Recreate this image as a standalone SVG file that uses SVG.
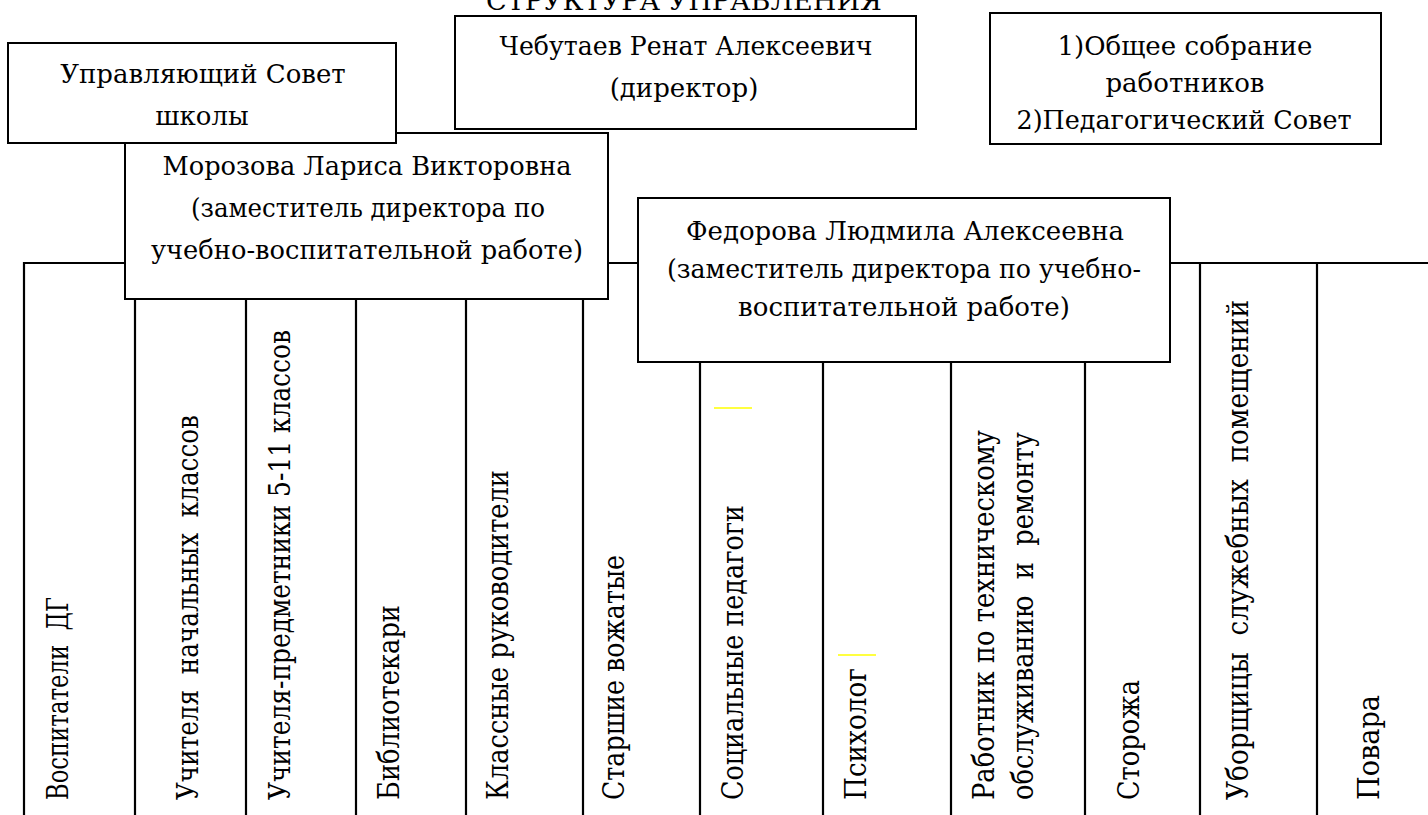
<svg xmlns="http://www.w3.org/2000/svg" width="1428" height="815" viewBox="0 0 1428 815">
<style>
.box{fill:#fff;stroke:#000;stroke-width:2}
.ln{stroke:#000;stroke-width:2.2;fill:none}
.t{font-family:'DejaVu Serif','Liberation Serif',serif;font-size:26px;fill:#000;white-space:pre}
.v{font-size:29px}
.c{text-anchor:middle}
.y{stroke:#ffff00;stroke-width:1.5}
</style>
<rect width="1428" height="815" fill="#fff"/>
<text class="t c" x="684" y="10" font-size="27" textLength="396" lengthAdjust="spacingAndGlyphs">СТРУКТУРА УПРАВЛЕНИЯ</text>
<g id="connectors">
<line class="ln" x1="24" y1="263" x2="1428" y2="263"/>
<line class="ln" x1="24" y1="262" x2="24" y2="815"/>
<line class="ln" x1="135" y1="299" x2="135" y2="815"/>
<line class="ln" x1="246" y1="299" x2="246" y2="815"/>
<line class="ln" x1="356" y1="299" x2="356" y2="815"/>
<line class="ln" x1="466" y1="299" x2="466" y2="815"/>
<line class="ln" x1="583" y1="299" x2="583" y2="815"/>
<line class="ln" x1="700" y1="362" x2="700" y2="815"/>
<line class="ln" x1="823" y1="362" x2="823" y2="815"/>
<line class="ln" x1="951" y1="362" x2="951" y2="815"/>
<line class="ln" x1="1085" y1="362" x2="1085" y2="815"/>
<line class="ln" x1="1200" y1="263" x2="1200" y2="815"/>
<line class="ln" x1="1317" y1="263" x2="1317" y2="815"/>
<line class="y" x1="714" y1="408" x2="752" y2="408"/>
<line class="y" x1="838" y1="655" x2="876" y2="655"/>
</g>
<g id="morozova">
<rect class="box" x="125" y="133" width="483" height="166"/>
<text class="t c" x="367" y="175" textLength="409" lengthAdjust="spacingAndGlyphs">Морозова Лариса Викторовна</text>
<text class="t c" x="368" y="217" textLength="354" lengthAdjust="spacingAndGlyphs">(заместитель директора по</text>
<text class="t c" x="367" y="259" textLength="432" lengthAdjust="spacingAndGlyphs">учебно-воспитательной работе)</text>
</g>
<g id="council">
<rect class="box" x="8" y="43" width="388" height="100"/>
<text class="t c" x="203" y="83">Управляющий Совет</text>
<text class="t c" x="202" y="125">школы</text>
</g>
<g id="director">
<rect class="box" x="455" y="16" width="461" height="113"/>
<text class="t c" x="686" y="55" textLength="373" lengthAdjust="spacingAndGlyphs">Чебутаев Ренат Алексеевич</text>
<text class="t c" x="684" y="97">(директор)</text>
</g>
<g id="collegial">
<rect class="box" x="990" y="13" width="391" height="131"/>
<text class="t c" x="1185" y="55">1)Общее собрание</text>
<text class="t c" x="1185" y="92">работников</text>
<text class="t c" x="1184" y="129" textLength="335" lengthAdjust="spacingAndGlyphs">2)Педагогический Совет</text>
</g>
<g id="fedorova">
<rect class="box" x="638" y="198" width="532" height="164"/>
<text class="t c" x="905" y="240">Федорова Людмила Алексеевна</text>
<text class="t c" x="904" y="278" textLength="474" lengthAdjust="spacingAndGlyphs">(заместитель директора по учебно-</text>
<text class="t c" x="904" y="316">воспитательной работе)</text>
</g>
<g id="col-vospitateli"><text class="t v" transform="translate(68,800) rotate(-90)" textLength="203" lengthAdjust="spacingAndGlyphs">Воспитатели  ДГ</text></g>
<g id="col-nach"><text class="t v" transform="translate(198,800) rotate(-90)" textLength="385" lengthAdjust="spacingAndGlyphs">Учителя  начальных  классов</text></g>
<g id="col-pred"><text class="t v" transform="translate(290,800) rotate(-90)" textLength="470" lengthAdjust="spacingAndGlyphs">Учителя-предметники 5-11 классов</text></g>
<g id="col-bibl"><text class="t v" transform="translate(399,800) rotate(-90)" textLength="195" lengthAdjust="spacingAndGlyphs">Библиотекари</text></g>
<g id="col-kl"><text class="t v" transform="translate(508,800) rotate(-90)" textLength="330" lengthAdjust="spacingAndGlyphs">Классные руководители</text></g>
<g id="col-vozh"><text class="t v" transform="translate(624,800) rotate(-90)" textLength="245" lengthAdjust="spacingAndGlyphs">Старшие вожатые</text></g>
<g id="col-soc"><text class="t v" transform="translate(743,800) rotate(-90)" textLength="295" lengthAdjust="spacingAndGlyphs">Социальные педагоги</text></g>
<g id="col-psy"><text class="t v" transform="translate(866,800) rotate(-90)" textLength="132" lengthAdjust="spacingAndGlyphs">Психолог</text></g>
<g id="col-rab"><text class="t v" transform="translate(994,800) rotate(-90)" textLength="370" lengthAdjust="spacingAndGlyphs">Работник по техническому</text><text class="t v" transform="translate(1033,800) rotate(-90)" textLength="368" lengthAdjust="spacingAndGlyphs">обслуживанию  и  ремонту</text></g>
<g id="col-stor"><text class="t v" transform="translate(1139,800) rotate(-90)" textLength="120" lengthAdjust="spacingAndGlyphs">Сторожа</text></g>
<g id="col-ubor"><text class="t v" transform="translate(1248,800) rotate(-90)" textLength="500" lengthAdjust="spacingAndGlyphs">Уборщицы  служебных  помещений</text></g>
<g id="col-povara"><text class="t v" transform="translate(1379,800) rotate(-90)" textLength="105" lengthAdjust="spacingAndGlyphs">Повара</text></g>
</svg>
